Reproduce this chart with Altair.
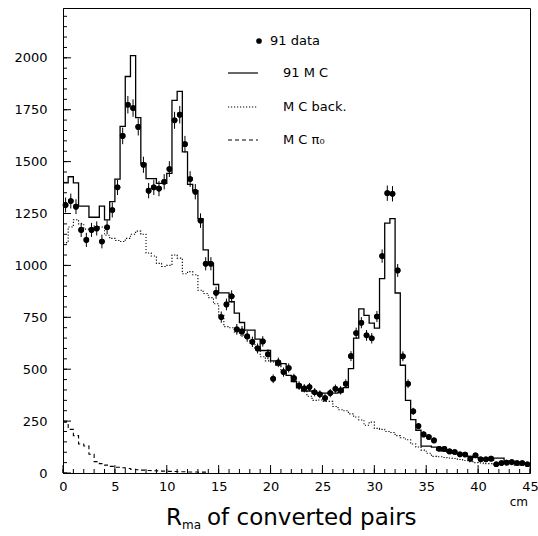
import altair as alt
import pandas as pd

# ---------------- data ----------------
bin_width = 0.5  # cm

data_counts = [
    1291, 1310, 1283, 1171, 1123, 1171, 1178, 1115, 1184, 1267,
    1376, 1624, 1774, 1758, 1667, 1485, 1360, 1376, 1370, 1403,
    1464, 1699, 1726, 1584, 1416, 1355, 1216, 1008, 1008, 868,
    751, 812, 851, 692, 682, 658, 632, 600, 634, 572,
    454, 533, 486, 506, 457, 421, 408, 414, 389, 379,
    361, 385, 406, 398, 430, 563, 674, 724, 663, 649,
    754, 1045, 1348, 1345, 976, 562, 430, 297, 226, 186,
    173, 157, 117, 117, 104, 101, 90, 89, 69, 85,
    66, 66, 69, 42, 48, 50, 53, 48, 48, 42,
]
data_errors = [
    36, 36, 36, 34, 34, 34, 34, 33, 34, 36,
    37, 40, 42, 42, 41, 39, 37, 37, 37, 37,
    38, 41, 42, 40, 38, 37, 35, 32, 32, 29,
    27, 28, 29, 26, 26, 26, 25, 24, 25, 24,
    21, 23, 22, 22, 21, 21, 20, 20, 20, 19,
    19, 20, 20, 20, 21, 24, 26, 27, 26, 25,
    27, 32, 37, 37, 31, 24, 21, 17, 15, 14,
    13, 13, 11, 11, 10, 10, 9, 9, 8, 9,
    8, 8, 8, 6, 7, 7, 7, 7, 7, 6,
]
mc_total = [
    1398, 1427, 1398, 1286, 1286, 1232, 1232, 1286, 1219, 1307,
    1416, 1670, 1910, 2011, 1712, 1491, 1418, 1418, 1395, 1395,
    1443, 1795, 1838, 1547, 1390, 1360, 1225, 1075, 1010, 908,
    868, 868, 825, 770, 725, 688, 688, 645, 590, 590,
    540, 520, 527, 470, 440, 410, 395, 395, 385, 385,
    385, 385, 385, 390, 411, 503, 650, 791, 759, 722,
    698, 936, 1204, 1225, 867, 519, 350, 257, 206, 129,
    129, 125, 110, 105, 100, 95, 90, 85, 80, 75,
    70, 65, 62, 72, 72, 55, 50, 48, 45, 42,
]
mc_background = [
    1110, 1185, 1220, 1200, 1175, 1180, 1190, 1185, 1145, 1130,
    1120, 1115, 1130, 1150, 1165, 1150, 1060, 1045, 1010, 995,
    1000, 1050, 1035, 960, 970, 955, 880, 865, 845, 815,
    760, 705, 700, 680, 665, 650, 625, 600, 560, 540,
    535, 520, 490, 470, 455, 420, 400, 370, 350, 352,
    345, 345, 320, 305, 300, 285, 270, 255, 230, 245,
    215, 210, 200, 195, 180, 170, 160, 140, 125, 110,
    95, 80, 78, 75, 72, 70, 65, 60, 55, 50,
    48, 45, 45, 43, 42, 40, 40, 38, 37, 36,
]
mc_pi0 = [
    245, 210, 180, 140, 130, 90, 55, 45, 38, 32,
    28, 25, 22, 18, 16, 14, 12, 11, 10, 9,
    8, 7, 6, 6, 5, 5, 4, 4,
]

x_tick_labels = [0, 5, 10, 15, 20, 25, 30, 35, 40, 45]
y_tick_labels = [0, 250, 500, 750, 1000, 1250, 1500, 1750, 2000]
x_minor_ticks = list(range(0, 46, 1))
y_minor_ticks = list(range(0, 2201, 50))
legend_labels = ["91 data", "91 M C", "M C back.", "M C π₀"]
title_parts = ["R", "ma", "of converted pairs"]
unit_label = "cm"

# ---------------- layout ----------------
W, H = 467, 465
FONT = "DejaVu Sans"
xs = alt.Scale(domain=[0, 45], nice=False, zero=False)
ys = alt.Scale(domain=[0, 2240], nice=False)

pts = pd.DataFrame({
    "x": [bin_width * (k + 0.5) for k in range(len(data_counts))],
    "n": data_counts,
    "err": data_errors,
})
pts["lo"] = pts["n"] - pts["err"]
pts["hi"] = pts["n"] + pts["err"]


def step_df(vals):
    edges = [bin_width * k for k in range(len(vals) + 1)]
    return pd.DataFrame({"x": edges, "y": list(vals) + [vals[-1]]})


xaxis = alt.Axis(values=x_tick_labels, ticks=False, labelPadding=7, labelFontSize=13,
                 labelFont=FONT, labelColor="black", title=None, grid=False,
                 domainColor="black", labelFlush=False, format="d")
yaxis = alt.Axis(values=y_tick_labels, ticks=False, labelPadding=16, labelFontSize=13,
                 labelFont=FONT, labelColor="black", title=None, grid=False,
                 domainColor="black", format="d")


def X(field):
    return alt.X(field, scale=xs, axis=xaxis)


def Y(field):
    return alt.Y(field, scale=ys, axis=yaxis)


points = alt.Chart(pts).mark_point(filled=True, color="black", size=32, opacity=1).encode(
    x=X("x:Q"), y=Y("n:Q"),
)
errbars = alt.Chart(pts).mark_rule(color="black", strokeWidth=1).encode(
    x=X("x:Q"), y=Y("lo:Q"), y2="hi:Q",
)


def hist_line(vals, dash=None, width=1.2):
    kw = dict(interpolate="step-after", color="black", strokeWidth=width)
    if dash is not None:
        kw["strokeDash"] = dash
    return alt.Chart(step_df(vals)).mark_line(**kw).encode(x=X("x:Q"), y=Y("y:Q"))


mc_line = hist_line(mc_total, None, 1.3)
bg_line = hist_line(mc_background, [1.2, 1.8], 1.1)
pi_line = hist_line(mc_pi0, [4, 3], 1.1)


def xticks(vals, length):
    return alt.Chart(pd.DataFrame({"v": vals})).mark_rule(color="black", strokeWidth=1).encode(
        x=X("v:Q"), y=alt.value(H), y2=alt.value(H - length))


def yticks(vals, length):
    return alt.Chart(pd.DataFrame({"v": vals})).mark_rule(color="black", strokeWidth=1).encode(
        y=Y("v:Q"), x=alt.value(0), x2=alt.value(length))


one = pd.DataFrame({"a": [0]})


def label(text, x, y, size=13, align="left", baseline="middle"):
    return alt.Chart(one).mark_text(text=text, font=FONT, fontSize=size, color="black",
                                    align=align, baseline=baseline).encode(
        x=alt.value(x), y=alt.value(y))


def leg_rule(y, dash=None):
    kw = dict(color="black", strokeWidth=1.2)
    if dash is not None:
        kw["strokeDash"] = dash
    return alt.Chart(one).mark_rule(**kw).encode(
        x=alt.value(165), x2=alt.value(195), y=alt.value(y))


leg_dot = alt.Chart(one).mark_point(filled=True, color="black", size=32, opacity=1).encode(
    x=alt.value(196), y=alt.value(33))

layers = [
    points,
    xticks(x_minor_ticks, 4), xticks(x_tick_labels, 8),
    yticks(y_minor_ticks, 4), yticks(y_tick_labels, 8),
    bg_line, pi_line, mc_line, errbars, points,
    leg_dot, label(legend_labels[0], 207, 33),
    leg_rule(65), label(legend_labels[1], 220, 65),
    leg_rule(99, [1.2, 1.8]), label(legend_labels[2], 220, 99),
    leg_rule(132, [4, 3]), label(legend_labels[3], 220, 132),
    label(title_parts[0], 103, 517, size=23, baseline="alphabetic"),
    label(title_parts[1], 119, 521, size=12, baseline="alphabetic"),
    label(title_parts[2], 144, 517, size=23, baseline="alphabetic"),
    label(unit_label, 465, 498, size=12, align="right", baseline="alphabetic"),
]

chart = alt.layer(*layers).properties(
    width=W, height=H,
    autosize=alt.AutoSizeParams(type="none"),
    padding={"left": 63, "top": 8, "right": 8, "bottom": 63},
    background="white",
).configure_view(stroke="black", strokeWidth=1)

chart.save("out.html", embed_options={"renderer": "svg", "actions": False})
